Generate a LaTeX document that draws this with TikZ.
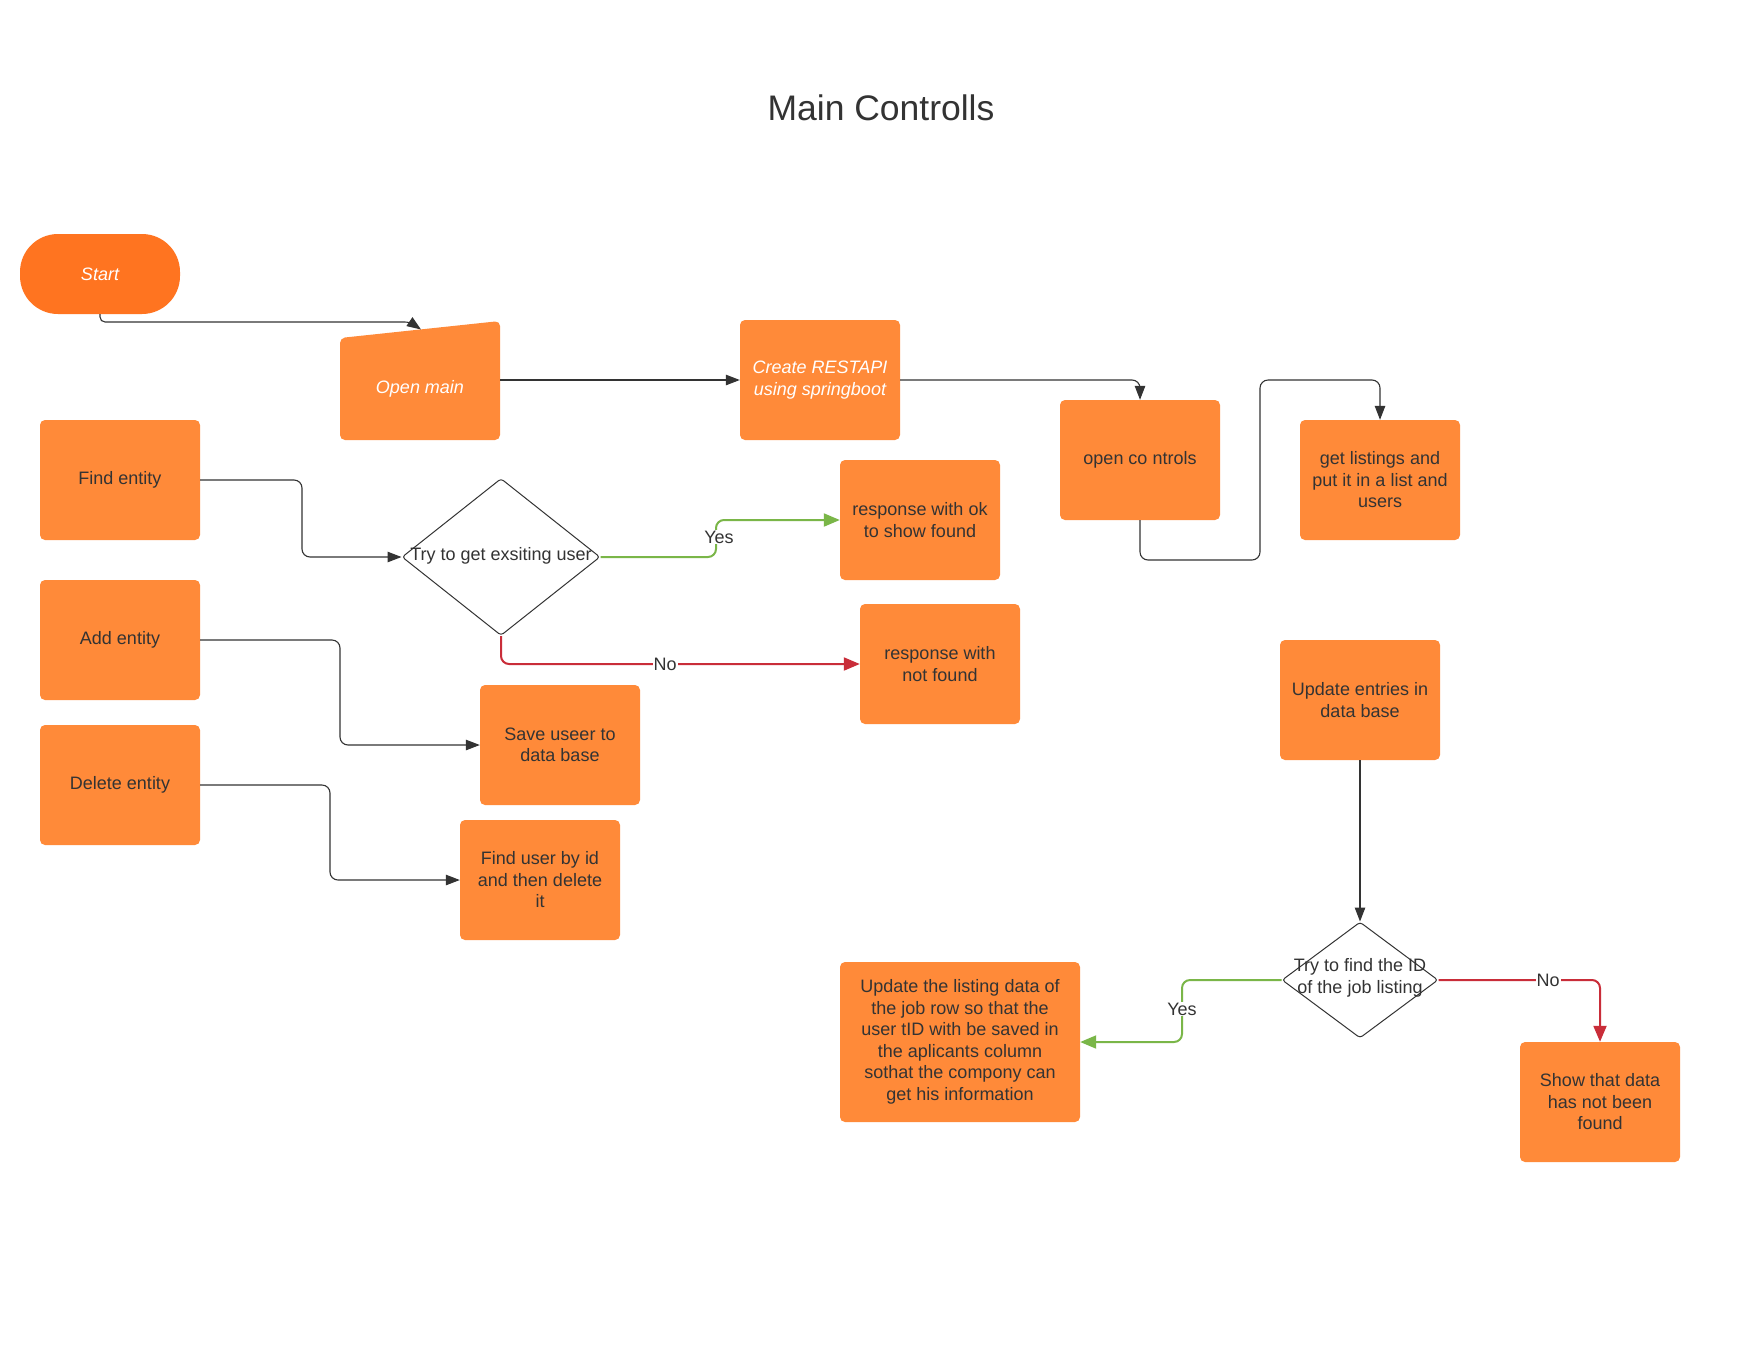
\documentclass[tikz,border=0pt]{standalone}
\usepackage{fontspec}
\setmainfont{Liberation Sans}
\usetikzlibrary{arrows.meta,shapes.geometric}
\definecolor{boxorange}{RGB}{255,138,57}
\definecolor{startorange}{RGB}{255,116,32}
\definecolor{ink}{RGB}{51,51,51}
\definecolor{yesgreen}{RGB}{122,182,72}
\definecolor{nored}{RGB}{201,45,57}
\begin{document}
\begin{tikzpicture}[x=1pt,y=-1pt,
  txt/.style={font=\fontsize{18}{21.5}\selectfont, align=center, inner sep=0pt},
  box/.style={rectangle, rounded corners=5pt, fill=boxorange, text=ink,
    minimum width=160pt, minimum height=120pt, align=center, inner sep=2pt,
    font=\fontsize{18}{21.5}\selectfont},
  whitebox/.style={box, text=white, font=\fontsize{18}{21.5}\selectfont\itshape},
  decision/.style={diamond, draw=ink, line width=1pt, fill=white, inner sep=0pt,
    rounded corners=3pt},
  conn/.style={draw=ink, line width=1.1pt, rounded corners=8pt,
    -{Triangle[length=14pt,width=10.5pt]}},
  yesconn/.style={draw=yesgreen, line width=2pt, rounded corners=8pt,
    -{Triangle[length=16pt,width=13pt]}},
  noconn/.style={draw=nored, line width=2pt, rounded corners=8pt,
    -{Triangle[length=16pt,width=13pt]}},
  lab/.style={fill=white, inner sep=1pt, text=ink, font=\fontsize{18}{21}\selectfont}]
\useasboundingbox[fill=white] (0,0) rectangle (1760,1360);

% title
\node[text=ink, font=\fontsize{35.5}{42}\selectfont] (title) at (881,108) {Main Controlls};

% start
\node[whitebox, fill=startorange, rounded corners=38pt, minimum height=80pt] (start) at (100,274) {Start};

% open main (manual input shape)
\fill[boxorange, rounded corners=5pt] (340,338) -- (500,321) -- (500,440) -- (340,440) -- cycle;
\node[rectangle, minimum width=160pt, minimum height=120pt, inner sep=0pt] (om) at (420,380) {};
\node[txt, text=white, font=\fontsize{18}{21.5}\selectfont\itshape] (omtext) at (420,389) {Open main};
\coordinate (omtop) at (421,329.5);

\node[whitebox] (cr) at (820,380) {Create RESTAPI\\using springboot};
\node[box] (oc) at (1140,460) {open co ntrols};
\node[box] (gl) at (1380,480) {get listings and\\put it in a list and\\users};
\node[box] (find) at (120,480) {Find entity};
\node[box] (ok) at (920,520) {response with ok\\to show found};
\node[decision, minimum width=198pt, minimum height=157pt] (d1) at (501,557) {};
\node[txt, text=ink] (d1text) at (501,556) {Try to get exsiting user};
\node[box] (nf) at (940,664) {response with\\not found};
\node[box] (add) at (120,640) {Add entity};
\node[box] (save) at (560,745) {Save useer to\\data base};
\node[box] (del) at (120,785) {Delete entity};
\node[box] (fu) at (540,880) {Find user by id\\and then delete\\it};
\node[box] (ue) at (1360,700) {Update entries in\\data base};
\node[decision, minimum width=156pt, minimum height=116pt] (d2) at (1360,980) {};
\node[txt, text=ink] (d2text) at (1360,978) {Try to find the ID\\of the job listing};
\node[box, minimum width=240pt, minimum height=160pt] (ul) at (960,1042) {Update the listing data of\\the job row so that the\\user tID with be saved in\\the aplicants column\\sothat the compony can\\get his information};
\node[box] (sd) at (1600,1102) {Show that data\\has not been\\found};

% connectors
\draw[conn, rounded corners=5pt] (start.south) |- (410,322) -- (omtop);
\draw[conn] (om.east) -- (cr.west);
\draw[conn] (cr.east) -| (oc.north);
\draw[conn] (oc.south) |- (1260,560) -- (1260,380) -| (gl.north);
\draw[conn] (find.east) -- (302,480) -- (302,557) -- (d1.west);
\draw[yesconn] (d1.east) -- (716,557) -- (716,520) -- (ok.west);
\draw[noconn] (d1.south) -- (501,664) -- (nf.west);
\draw[conn] (add.east) -- (340,640) -- (340,745) -- (save.west);
\draw[conn] (del.east) -- (330,785) -- (330,880) -- (fu.west);
\draw[conn] (ue.south) -- (d2.north);
\draw[yesconn] (d2.west) -- (1182,980) -- (1182,1042) -- (ul.east);
\draw[noconn] (d2.east) -| (sd.north);

% labels
\node[lab] (yes1) at (719,537) {Yes};
\node[lab] (no1) at (665,664) {No};
\node[lab] (yes2) at (1182,1009) {Yes};
\node[lab] (no2) at (1548,980) {No};
\end{tikzpicture}
\end{document}
